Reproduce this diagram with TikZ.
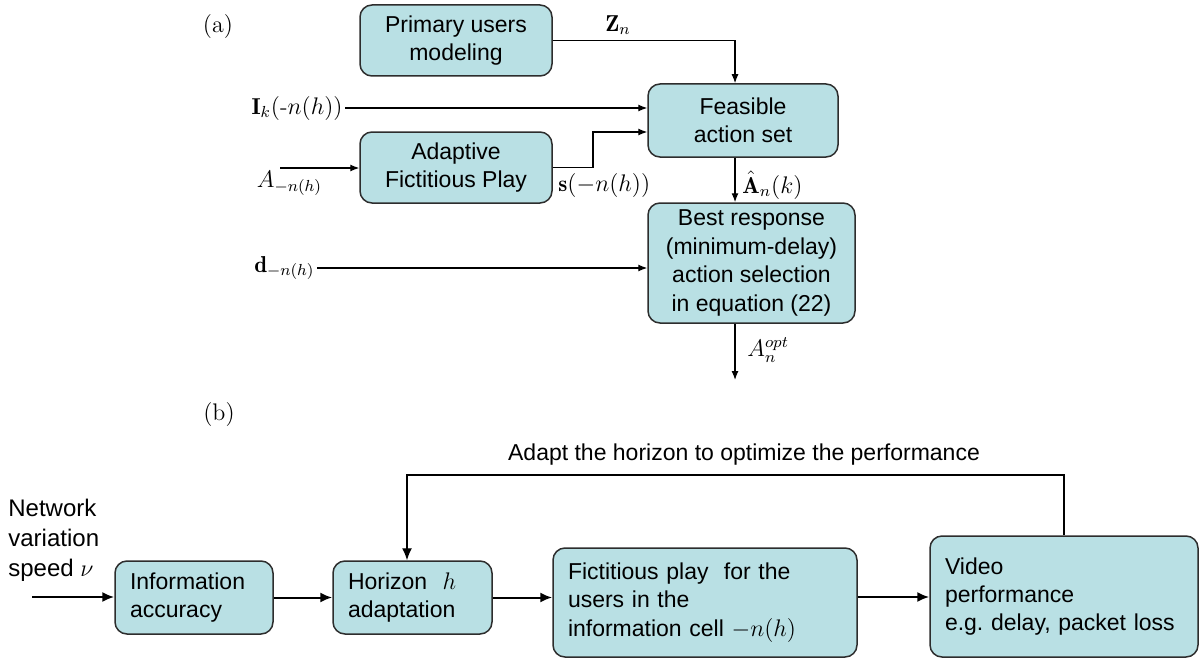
\documentclass[tikz,border=0pt]{standalone}
\usepackage{amsmath,amssymb}
\usepackage{fontspec}
\setsansfont{Liberation Sans}
\usetikzlibrary{arrows.meta,positioning}
\definecolor{boxfill}{RGB}{185,224,228}
\definecolor{boxline}{RGB}{45,45,45}
\frenchspacing

\begin{document}
\begin{tikzpicture}[x=0.5pt, y=-0.5pt, >={Latex[length=4.5pt,width=3.5pt]},
  every node/.style={font=\fontsize{11.5}{14.2}\selectfont},
  blk/.style={draw=boxline, fill=boxfill, rounded corners=6pt, line width=0.75pt, align=center, inner sep=0pt, font=\sffamily\fontsize{11.5}{14.2}\selectfont},
  lblk/.style={blk, align=left, inner xsep=7.5pt},
  lbl/.style={inner sep=1pt},
  sig/.style={->, line width=0.6pt},
  flow/.style={->, line width=1pt, >={Latex[length=6pt,width=5pt]}},
  back/.style={->, line width=0.7pt, >={Latex[length=6pt,width=5pt]}}]

\useasboundingbox (0,0) rectangle (1203,658);

% (a) blocks
\node (a) [font=\fontsize{12}{14}\selectfont] at (218,27) {(a)};
\node (PU) [blk, minimum width=96pt, minimum height=35.5pt] at (456,40.5) {Primary users\\modeling};
\node (FAS) [blk, minimum width=95pt, minimum height=36.5pt] at (743,120.5) {Feasible\\action set};
\node (AFP) [blk, minimum width=96pt, minimum height=35.5pt] at (456,167.5) {Adaptive\\Fictitious Play};
\node (BR) [blk, minimum width=103.5pt, minimum height=60pt] at (751.5,263) {Best response\\(minimum-delay)\\action selection\\in equation (22)};

% (a) signal labels
\node (Ik) [lbl, anchor=east] at (345,108) {$\mathbf{I}_k(\mbox{-}n(h))$};
\node (Aminus) [lbl] at (289.5,183) {$A_{-n(h)}$};
\node (dminus) [lbl, anchor=east] at (317,268) {$\mathbf{d}_{-n(h)}$};
\node (Zn) [lbl] at (618,25) {$\mathbf{Z}_n$};
\node (sn) [lbl, anchor=west] at (556,185) {$\mathbf{s}(-n(h))$};
\node (An) [lbl, anchor=west] at (740,185) {$\hat{\mathbf{A}}_n(k)$};
\node (Aopt) [lbl, anchor=west] at (745,350) {$A_n^{opt}$};
\coordinate (ain) at (280,168);
\coordinate (aout) at (735,380);

% (a) connectors
\draw[sig] (PU.east) -| ([xshift=-4pt]FAS.north);
\draw[sig] (Ik.east) -- (Ik.east -| FAS.west);
\draw[sig] (ain) -- (ain -| AFP.west);
\draw[sig] (AFP.east) -- (AFP.east -| 593,0) |- (FAS.west |- 0,132);
\draw[sig] ([xshift=-4pt]FAS.south) -- ([xshift=-4pt]FAS.south |- BR.north);
\draw[sig] (dminus.east) -- (dminus.east -| BR.west);
\draw[sig] (BR.south -| aout) -- (aout);

% (b) blocks
\node (b) [font=\fontsize{12}{14}\selectfont] at (219,415) {(b)};
\node (NV) [anchor=west, align=left, inner sep=0pt, font=\sffamily\fontsize{12}{15}\selectfont] at (8,540) {Network\\variation\\speed $\nu$};
\node (adapt) [font=\sffamily\fontsize{11.5}{14.2}\selectfont] at (744,455) {Adapt the horizon to optimize the performance};
\node (IA) [lblk, minimum width=79pt, minimum height=36.5pt, text width=64pt] at (194,597.5) {Information\\accuracy};
\node (HA) [lblk, minimum width=79.5pt, minimum height=36.5pt, text width=64.5pt] at (412.5,597.5) {Horizon~~$h$\\adaptation};
\node (FP) [lblk, minimum width=152pt, minimum height=54.5pt, text width=137pt] at (705,602.5) {Fictitious play~~for the\\users in the\\information cell $-n(h)$};
\node (VP) [lblk, minimum width=134pt, minimum height=60.5pt, text width=119pt] at (1064,596.5) {Video\\performance\\e.g. delay, packet loss};
\coordinate (in) at (32,597);
\coordinate (top) at (407,475);

% (b) connectors
\draw[flow] (in) -- (in -| IA.west);
\draw[flow] (IA.east) -- (IA.east -| HA.west);
\draw[flow] (HA.east) -- (HA.east -| FP.west);
\draw[flow] (FP.east |- 0,597) -- (VP.west |- 0,597);
\draw[back] (VP.north) |- (top) -- (top |- HA.north);

\end{tikzpicture}
\end{document}
